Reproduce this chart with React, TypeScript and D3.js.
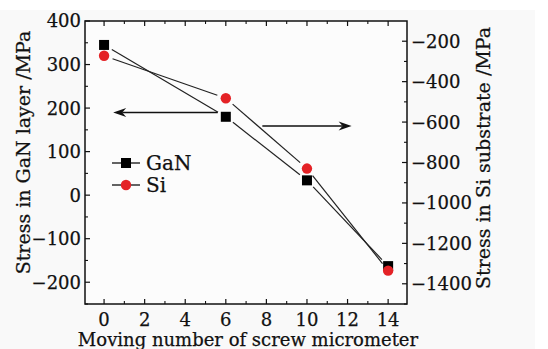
import React from 'react';
import { scaleLinear, range, line } from 'd3';

// screw micrometer steps and measured stresses
const steps = [0, 6, 10, 14];
const ganStress = [345, 180, 34, -163];
const siStress = [-272, -482, -830, -1335];

const xTicks = [0, 2, 4, 6, 8, 10, 12, 14];
const leftTicks = [-200, -100, 0, 100, 200, 300, 400];
const rightTicks = [-1400, -1200, -1000, -800, -600, -400, -200];

// arrows pointing at each axis (x from -> to, y on the GaN axis)
const arrowLeft = { from: 5.6, to: 0.45, y: 190 };
const arrowRight = { from: 7.8, to: 12.2, y: 159 };

const W = 548;
const H = 349;
const FONT = '"DejaVu Serif", serif';
const RED = '#e42226';
const INK = '#111';
const m = (v: number) => (v < 0 ? '\u2212' + Math.abs(v) : String(v));

export default function App() {
	const x = scaleLinear().domain([-0.94, 14.93]).range([85, 407]);
	const yL = scaleLinear().domain([-250, 400]).range([304, 21]);
	const yR = scaleLinear().domain([-1500, -100]).range([304, 21]);
	const [x0, x1] = x.range();
	const [yB, yT] = yL.range();

	const gapped = (pts: [number, number][], gap: number) => {
		const segs: string[] = [];
		const gen = line();
		for (let i = 0; i < pts.length - 1; i++) {
			const [ax, ay] = pts[i];
			const [bx, by] = pts[i + 1];
			const len = Math.hypot(bx - ax, by - ay);
			const ux = (bx - ax) / len;
			const uy = (by - ay) / len;
			segs.push(gen([[ax + ux * gap, ay + uy * gap], [bx - ux * gap, by - uy * gap]]) as string);
		}
		return segs;
	};

	const ganPts = steps.map((s, i) => [x(s), yL(ganStress[i])] as [number, number]);
	const siPts = steps.map((s, i) => [x(s), yR(siStress[i])] as [number, number]);

	const arrow = (a: { from: number; to: number; y: number }) => {
		const xa = x(a.from);
		const xb = x(a.to);
		const yy = yL(a.y);
		const d = Math.sign(xb - xa);
		const head = `M${xb},${yy} L${xb - d * 13},${yy - 4.5} L${xb - d * 9},${yy} L${xb - d * 13},${yy + 4.5} Z`;
		return (
			<g>
				<line x1={xa} x2={xb - d * 9} y1={yy} y2={yy} stroke={INK} strokeWidth={1.4} />
				<path d={head} fill={INK} />
			</g>
		);
	};

	const xMinor = range(0, 15, 1).filter((v) => v % 2 !== 0);
	const lMinor = range(-250, 400, 50).filter((v) => v % 100 !== 0);
	const rMinor = range(-1500, -100, 100).filter((v) => v % 200 !== 0);

	// slight outline gives the heavier print look of the original
	const txt = { fill: INK, stroke: INK, strokeWidth: 0.25 };

	return (
		<svg
			width={W}
			height={H}
			style={{ position: 'absolute', left: 0, top: 0, background: '#fff' }}
			fontFamily={FONT}
		>
			<rect x={0} y={10} width={535} height={H - 10} fill="#f9f9f9" />
			<rect x={x0} y={yT} width={x1 - x0} height={yB - yT} fill="#fcfcfc" />

			{/* x ticks, bottom and top, inward */}
			{xTicks.map((t) => (
				<g key={'x' + t}>
					<line x1={x(t)} x2={x(t)} y1={yB} y2={yB - 5} stroke={INK} strokeWidth={1.2} />
					<line x1={x(t)} x2={x(t)} y1={yT} y2={yT + 5} stroke={INK} strokeWidth={1.2} />
					<text x={x(t)} y={326} textAnchor="middle" fontSize={18} {...txt}>
						{t}
					</text>
				</g>
			))}
			{xMinor.map((t) => (
				<g key={'xm' + t}>
					<line x1={x(t)} x2={x(t)} y1={yB} y2={yB - 3} stroke={INK} strokeWidth={1.1} />
					<line x1={x(t)} x2={x(t)} y1={yT} y2={yT + 3} stroke={INK} strokeWidth={1.1} />
				</g>
			))}

			{/* left axis */}
			{leftTicks.map((t) => (
				<g key={'l' + t}>
					<line x1={x0} x2={x0 + 5} y1={yL(t)} y2={yL(t)} stroke={INK} strokeWidth={1.2} />
					<text x={81} y={yL(t)} dy="0.36em" textAnchor="end" fontSize={18} {...txt}>
						{m(t)}
					</text>
				</g>
			))}
			{lMinor.map((t) => (
				<line key={'lm' + t} x1={x0} x2={x0 + 3} y1={yL(t)} y2={yL(t)} stroke={INK} strokeWidth={1.1} />
			))}

			{/* right axis */}
			{rightTicks.map((t) => (
				<g key={'r' + t}>
					<line x1={x1} x2={x1 - 5} y1={yR(t)} y2={yR(t)} stroke={INK} strokeWidth={1.2} />
					<text x={411} y={yR(t)} dy="0.36em" textAnchor="start" fontSize={18} {...txt}>
						{m(t)}
					</text>
				</g>
			))}
			{rMinor.map((t) => (
				<line key={'rm' + t} x1={x1} x2={x1 - 3} y1={yR(t)} y2={yR(t)} stroke={INK} strokeWidth={1.1} />
			))}

			<rect x={x0} y={yT} width={x1 - x0} height={yB - yT} fill="none" stroke={INK} strokeWidth={1.5} />

			{/* connecting lines with gaps around the symbols */}
			{gapped(ganPts, 9).map((d, i) => (
				<path key={'gl' + i} d={d} fill="none" stroke="#222" strokeWidth={1.2} />
			))}
			{gapped(siPts, 9).map((d, i) => (
				<path key={'sl' + i} d={d} fill="none" stroke="#222" strokeWidth={1.2} />
			))}

			{ganPts.map(([px, py], i) => (
				<rect key={'g' + i} x={px - 5} y={py - 5} width={10} height={10} fill="#000" />
			))}
			{siPts.map(([px, py], i) => (
				<circle key={'s' + i} cx={px} cy={py} r={5.2} fill={RED} />
			))}

			{arrow(arrowLeft)}
			{arrow(arrowRight)}

			{/* legend */}
			<g>
				<line x1={112} x2={140} y1={163} y2={163} stroke="#222" strokeWidth={1.4} />
				<rect x={121} y={158} width={10} height={10} fill="#000" />
				<text x={146} y={163} dy="0.36em" fontSize={20} {...txt}>
					GaN
				</text>
				<line x1={112} x2={140} y1={185} y2={185} stroke="#222" strokeWidth={1.4} />
				<circle cx={126} cy={185} r={5.2} fill={RED} />
				<text x={146} y={185} dy="0.36em" fontSize={20} {...txt}>
					Si
				</text>
			</g>

			{/* axis titles */}
			<text
				transform={`translate(30,${(yT + yB) / 2 - 10}) rotate(-90)`}
				textAnchor="middle"
				fontSize={19}
				{...txt}
			>
				Stress in GaN layer /MPa
			</text>
			<text
				transform={`translate(490,158) rotate(-90)`}
				textAnchor="middle"
				fontSize={19}
				{...txt}
			>
				Stress in Si substrate /MPa
			</text>
			<text x={248} y={346} textAnchor="middle" fontSize={18} {...txt}>
				Moving number of screw micrometer
			</text>
		</svg>
	);
}
